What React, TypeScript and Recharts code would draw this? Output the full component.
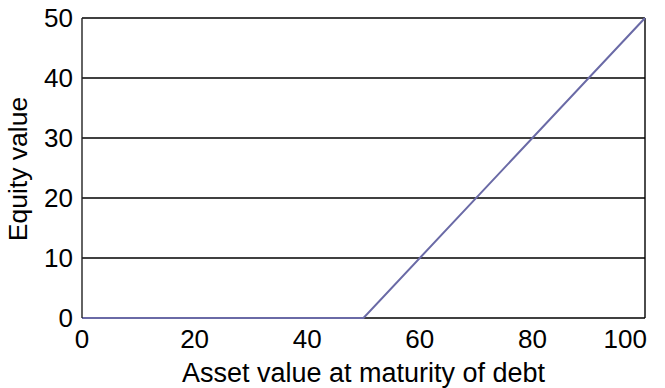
import React from 'react';
import { LineChart, Line, XAxis, YAxis, CartesianGrid, ReferenceLine, Label } from 'recharts';

const assetValues = [0, 50, 100];
const equityValues = [0, 0, 50];
const xTicks = [0, 20, 40, 60, 80, 100];
const yTicks = [0, 10, 20, 30, 40, 50];

const chartData = assetValues.map((asset, i) => ({ asset, equity: equityValues[i] }));

const FONT = '"Liberation Sans", Arial, sans-serif';

// last x tick sits flush with the right edge, like the source image
function XTick(props: any) {
  const { x, y, payload } = props;
  const last = payload.value === xTicks[xTicks.length - 1];
  return (
    <text
      x={last ? x + 2 : x}
      y={y}
      dy="0.71em"
      textAnchor={last ? 'end' : 'middle'}
      style={{ fontSize: 26, fill: '#000', fontFamily: FONT }}
    >
      {payload.value}
    </text>
  );
}

export default function App() {
  return (
    <div style={{ position: 'absolute', left: 0, top: 0, width: 665, height: 388, background: '#fff' }}>
      <LineChart
        width={665}
        height={388}
        data={chartData}
        margin={{ top: 18, right: 20, left: 0, bottom: 0 }}
        style={{ fontFamily: FONT }}
      >
        <CartesianGrid vertical={false} stroke="#000" strokeWidth={1.4} />
        <XAxis
          dataKey="asset"
          type="number"
          domain={[0, 100]}
          ticks={xTicks}
          height={70}
          axisLine={false}
          tickLine={false}
          tickSize={10}
          tickMargin={2}
          tick={<XTick />}
        >
          <Label
            value="Asset value at maturity of debt"
            position="insideBottom"
            offset={6}
            style={{ fontSize: 27, fill: '#000', fontFamily: FONT }}
          />
        </XAxis>
        <YAxis
          type="number"
          domain={[0, 50]}
          ticks={yTicks}
          width={82}
          axisLine={{ stroke: '#222', strokeWidth: 1.4 }}
          tickLine={false}
          tickSize={7}
          tickMargin={2}
          tick={{ fontSize: 26, fill: '#000', fontFamily: FONT }}
        >
          <Label
            content={() => (
              <text
                x={27}
                y={169}
                transform="rotate(-90, 27, 169)"
                textAnchor="middle"
                style={{ fontSize: 26.5, fill: '#000', fontFamily: FONT }}
              >
                Equity value
              </text>
            )}
          />
        </YAxis>
        <ReferenceLine x={100} stroke="#000" strokeWidth={1.4} />
        <Line
          type="linear"
          dataKey="equity"
          stroke="#6a6aa6"
          strokeWidth={2}
          dot={false}
          isAnimationActive={false}
        />
      </LineChart>
    </div>
  );
}
